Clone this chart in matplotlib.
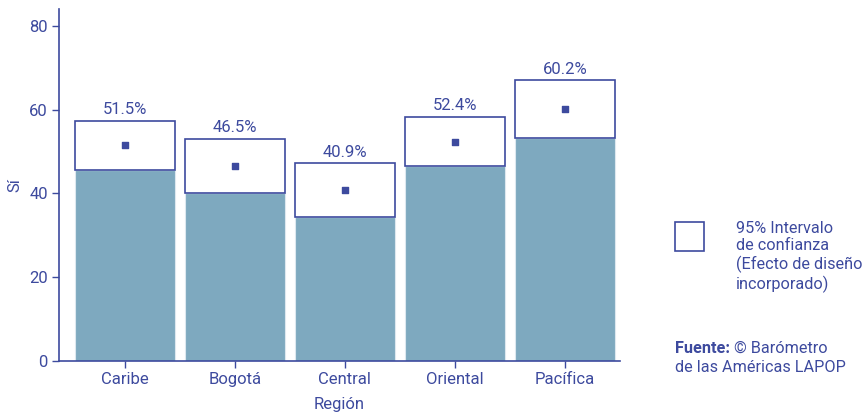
import matplotlib
matplotlib.use("Agg")
import matplotlib.pyplot as plt
from matplotlib.patches import Rectangle
import numpy as np

# Data
regions = ["Caribe", "Bogotá", "Central", "Oriental", "Pacífica"]
means = [51.5, 46.5, 40.9, 52.4, 60.2]
ci_low = [45.7, 40.1, 34.4, 46.5, 53.3]
ci_high = [57.4, 53.1, 47.3, 58.3, 67.1]

navy = "#3d4a9e"
bar_color = "#7ea9bf"

plt.rcParams['font.family'] = ['Roboto', 'DejaVu Sans']
plt.rcParams['font.size'] = 12

fig = plt.figure(figsize=(8.68, 4.15), dpi=100)
ax = fig.add_axes([0.068, 0.130, 0.646, 0.848])

x = np.arange(len(regions))
width = 0.91

# lower part of the bar (up to lower CI bound)
ax.bar(x, ci_low, width=width, color=bar_color, edgecolor="#dde8ef", linewidth=0.8, zorder=2)
# confidence interval box
ax.bar(x, np.array(ci_high) - np.array(ci_low), bottom=ci_low, width=width,
       color="white", edgecolor=navy, linewidth=1.2, zorder=3)
# point estimate
ax.scatter(x, means, marker="s", s=16, color=navy, zorder=4)

for xi, hi, m in zip(x, ci_high, means):
    ax.text(xi, hi + 0.8, f"{m:.1f}%", ha="center", va="bottom", color=navy, fontsize=12)

ax.set_xlim(-0.6, 4.5)
ax.set_ylim(0, 84)
ax.set_yticks([0, 20, 40, 60, 80])
ax.set_xticks(x)
ax.set_xticklabels(regions)
ax.set_ylabel("Sí", color=navy, fontsize=12, labelpad=5)
ax.set_xlabel("Región", color=navy, fontsize=12, labelpad=7)

for side in ["top", "right"]:
    ax.spines[side].set_visible(False)
for side in ["left", "bottom"]:
    ax.spines[side].set_color(navy)
    ax.spines[side].set_linewidth(1.2)
ax.tick_params(colors=navy, labelcolor=navy, length=5, width=1.0, labelsize=12, pad=3)

# legend box and notes
fig.patches.append(Rectangle((675 / 868, 1 - 251 / 415), 29 / 868, 29 / 415,
                             transform=fig.transFigure, facecolor="white",
                             edgecolor=navy, linewidth=1.2))
fig.text(736 / 868, 1 - 221 / 415,
         "95% Intervalo\nde confianza\n(Efecto de diseño\nincorporado)",
         ha="left", va="top", color=navy, fontsize=11.7, linespacing=1.2)
fig.text(675 / 868, 1 - 341 / 415, "Fuente:", ha="left", va="top",
         color=navy, fontsize=11.7, fontweight="bold")
fig.text(734 / 868, 1 - 341 / 415, "© Barómetro", ha="left", va="top",
         color=navy, fontsize=11.7)
fig.text(675 / 868, 1 - 360 / 415, "de las Américas LAPOP", ha="left", va="top",
         color=navy, fontsize=11.7)

fig.savefig("out.png", dpi=100)
